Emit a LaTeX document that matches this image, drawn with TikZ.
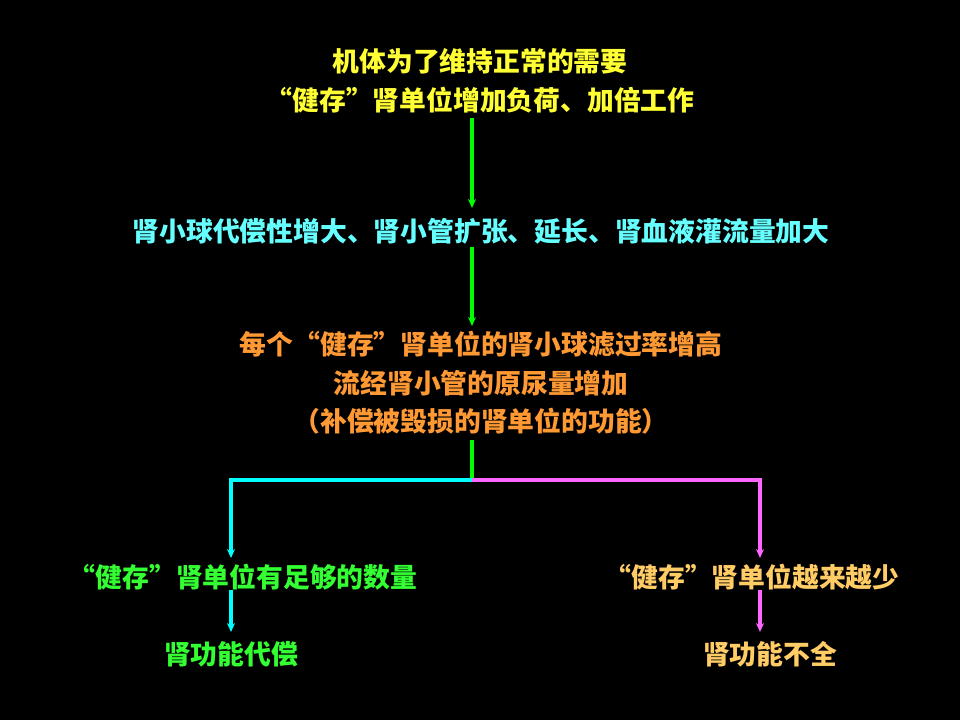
\documentclass[tikz,border=0pt]{standalone}
\usepackage{fontspec}
\setmainfont{Noto Sans CJK SC}
\usetikzlibrary{arrows.meta}
\definecolor{cyellow}{HTML}{FFFF33}
\definecolor{ccyan}{HTML}{66FFFF}
\definecolor{corange}{HTML}{FF9933}
\definecolor{cgreen}{HTML}{33FF33}
\definecolor{clorange}{HTML}{FFCC66}
\definecolor{agreen}{HTML}{00FF00}
\definecolor{acyan}{HTML}{00FFFF}
\definecolor{amag}{HTML}{FF66FF}
\begin{document}
\begin{tikzpicture}[x=1pt,y=-1pt,
  txt/.style={inner sep=0pt,align=center,font=\fontsize{26.8}{38.5}\selectfont\bfseries},
  conn/.style={line width=3.5pt,-{Stealth[length=9pt,width=8pt]}},
  seg/.style={line width=3.5pt}]
\fill[black] (0,0) rectangle (960,720);
\useasboundingbox (0,0) rectangle (960,720);
\node[txt,text=cyellow] (t1) at (480,81) {机体为了维持正常的需要\\“健存”肾单位增加负荷、加倍工作};
\node[txt,text=ccyan] (t2) at (481,231) {肾小球代偿性增大、肾小管扩张、延长、肾血液灌流量加大};
\node[txt,text=corange] (t3) at (481,383) {每个“健存”肾单位的肾小球滤过率增高\\流经肾小管的原尿量增加\\（补偿被毁损的肾单位的功能）};
\node[txt,text=cgreen] (l1) at (243,577) {“健存”肾单位有足够的数量};
\node[txt,text=clorange] (r1) at (752,577) {“健存”肾单位越来越少};
\node[txt,text=cgreen] (l2) at (231,654) {肾功能代偿};
\node[txt,text=clorange] (r2) at (770,654) {肾功能不全};
\coordinate (a1s) at (472,118);
\coordinate (a1e) at (472,208);
\coordinate (a2s) at (472,247);
\coordinate (a2e) at (472,326);
\coordinate (b0) at (472,440);
\coordinate (bm) at (472,480);
\coordinate (bl) at (231,480);
\coordinate (br) at (760,480);
\coordinate (ble) at (231,558);
\coordinate (bre) at (760,558);
\coordinate (c1s) at (231,590);
\coordinate (c1e) at (231,632);
\coordinate (c2s) at (760,590);
\coordinate (c2e) at (760,632);
\draw[conn,agreen] (a1s) -- (a1e);
\draw[conn,agreen] (a2s) -- (a2e);
\draw[seg,agreen] (b0) -- (bm);
\draw[conn,acyan] (bm) -- (bl) -- (ble);
\draw[conn,amag] (bm) -- (br) -- (bre);
\draw[conn,acyan] (c1s) -- (c1e);
\draw[conn,amag] (c2s) -- (c2e);
\end{tikzpicture}
\end{document}
